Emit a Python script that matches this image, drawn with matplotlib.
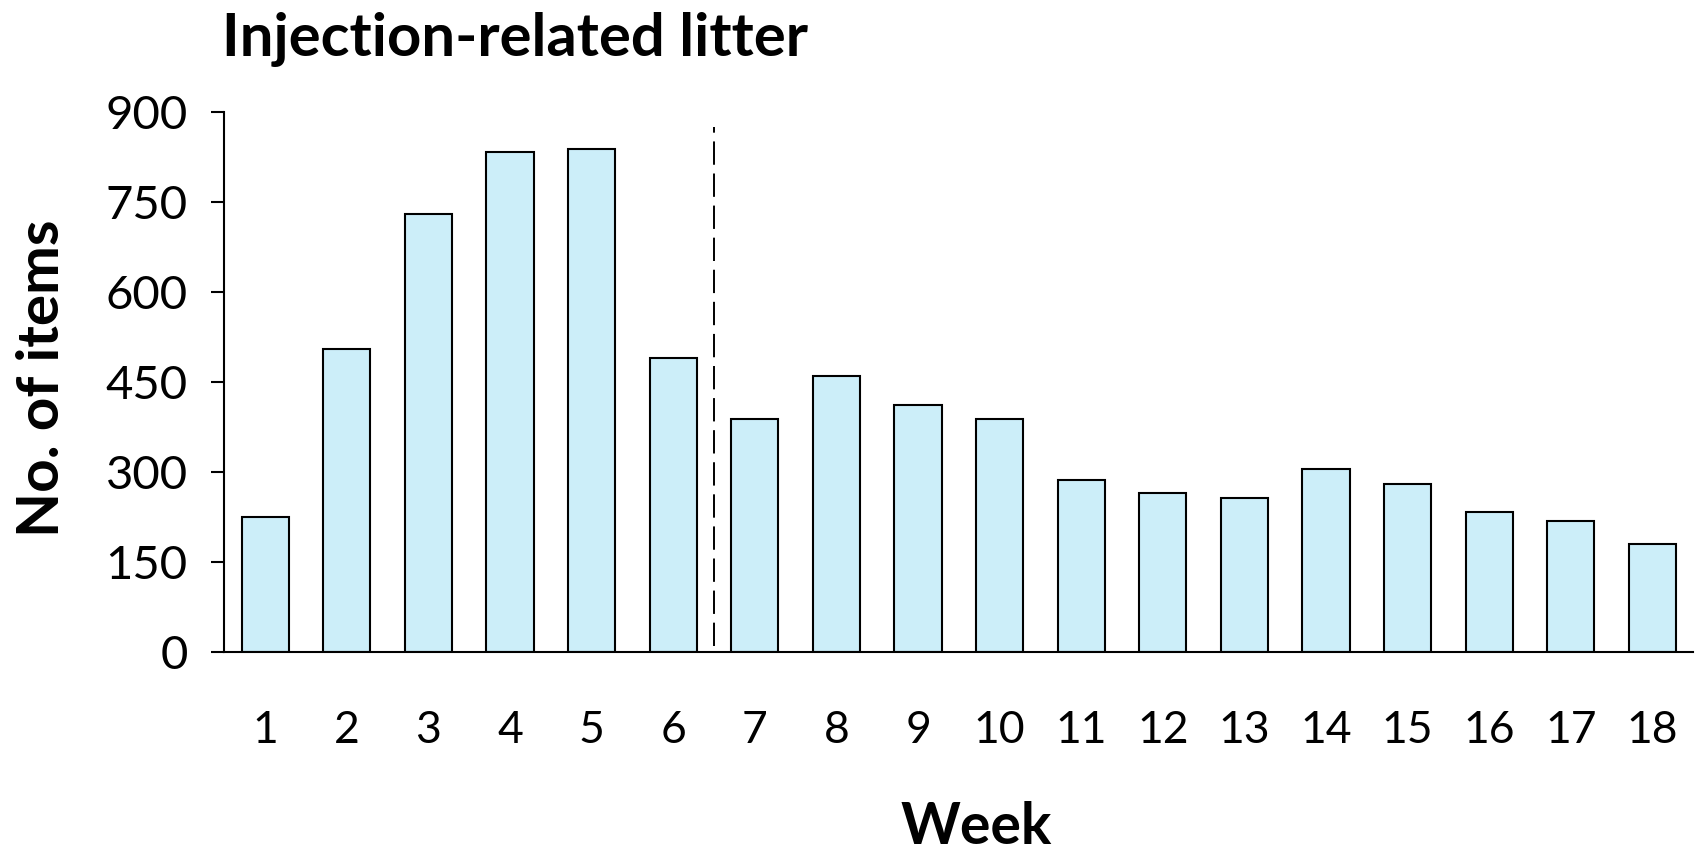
import matplotlib
matplotlib.use('Agg')
import matplotlib.pyplot as plt

# weekly counts of injection-related litter
weeks = list(range(1, 19))
week_labels = [str(w) for w in weeks]
items = [225, 504, 730, 832, 838, 490, 388, 459, 411, 388,
         287, 265, 256, 304, 280, 233, 218, 179]
yticks = [0, 150, 300, 450, 600, 750, 900]
split_week = 6.5  # dashed line between week 6 and 7

plt.rcParams['font.family'] = ['Lato', 'DejaVu Sans']

fig = plt.figure(figsize=(17, 8.52), dpi=100)
ax = fig.add_axes([0.132, 0.235, 0.864, 0.634])

ax.bar(weeks, items, width=0.58, color='#cceef9', edgecolor='black', linewidth=1.5)
ax.vlines(split_week, 10, 875, colors='black', linestyles=(0, (12, 4.5)), linewidth=1.4)

ax.set_xlim(0.5, 18.5)
ax.set_ylim(0, 900)
ax.set_yticks(yticks)
ax.set_yticklabels([str(v) for v in yticks], fontsize=34)
ax.set_xticks(weeks)
ax.set_xticklabels(week_labels, fontsize=32)

ax.spines['top'].set_visible(False)
ax.spines['right'].set_visible(False)
ax.spines['left'].set_linewidth(1.5)
ax.spines['bottom'].set_linewidth(1.5)
ax.tick_params(axis='y', direction='out', length=9.5, width=1.5, pad=17)
ax.tick_params(axis='x', length=0, pad=42)

fig.text(0.1306, 0.934, 'Injection-related litter', fontsize=43,
         fontweight='bold', ha='left', va='baseline')
fig.text(0.574, 0.009, 'Week', fontsize=41, fontweight='bold',
         ha='center', va='baseline')
fig.text(0.025, 0.556, 'No. of items', fontsize=42, fontweight='bold',
         rotation=90, ha='center', va='center')

fig.savefig('out.png', dpi=100)
